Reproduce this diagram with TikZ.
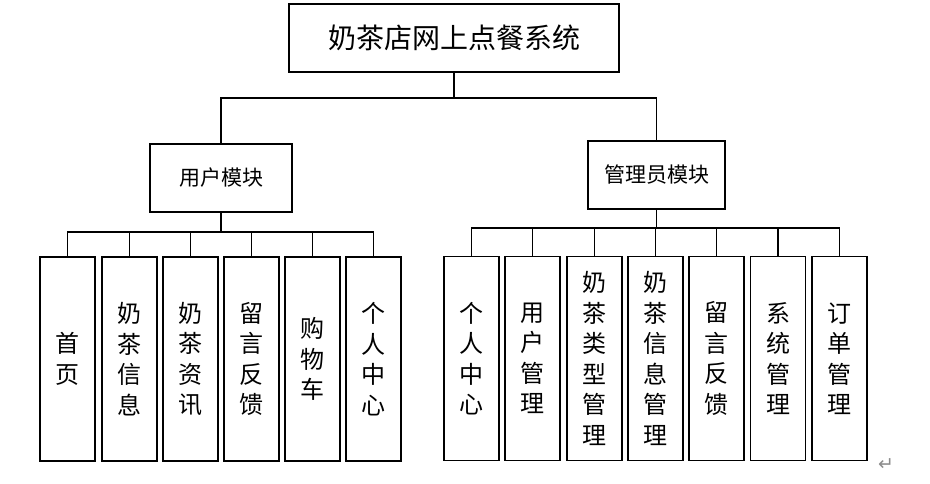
\documentclass[tikz,border=0pt]{standalone}
\usepackage{fontspec}
\newfontfamily\cjk{Noto Sans CJK SC}
\newfontfamily\symfont{DejaVu Sans}
\begin{document}
\begin{tikzpicture}[x=1pt,y=-1pt,
  box/.style={draw=black, line width=1.7pt, fill=white, inner sep=0pt, align=center, text=black},
  leaf/.style={box, minimum width=55pt, minimum height=204pt, font=\cjk\fontsize{24}{30.5}\selectfont},
  modbox/.style={box, font=\cjk\fontsize{21}{24}\selectfont},
  conn/.style={line width=1.7pt, draw=black}]
\useasboundingbox (0,0) rectangle (930,483);
% root
\node[box, minimum width=330pt, minimum height=68pt, font=\cjk\fontsize{28}{30}\selectfont] (root) at (454,38) {奶茶店网上点餐系统};
% modules
\node[modbox, minimum width=142pt, minimum height=68pt] (user) at (221,178) {用户模块};
\node[modbox, minimum width=137pt, minimum height=68pt] (admin) at (656.5,175) {管理员模块};
% junctions
\coordinate (j0) at (454,98);
\coordinate (ju) at (221,232);
\coordinate (ja) at (656.5,228);
% user leaves
\node[leaf] (u1) at (67.5,359) {首\\页};
\node[leaf] (u2) at (129.5,359) {奶\\茶\\信\\息};
\node[leaf] (u3) at (190.5,359) {奶\\茶\\资\\讯};
\node[leaf] (u4) at (251.5,359) {留\\言\\反\\馈};
\node[leaf] (u5) at (312.5,359) {购\\物\\车};
\node[leaf] (u6) at (373.5,359) {个\\人\\中\\心};
% admin leaves
\node[leaf] (a1) at (471.5,358.5) {个\\人\\中\\心};
\node[leaf] (a2) at (532.5,358.5) {用\\户\\管\\理};
\node[leaf] (a3) at (594.5,358.5) {奶\\茶\\类\\型\\管\\理};
\node[leaf] (a4) at (655.5,358.5) {奶\\茶\\信\\息\\管\\理};
\node[leaf] (a5) at (716.5,358.5) {留\\言\\反\\馈};
\node[leaf] (a6) at (778,358.5) {系\\统\\管\\理};
\node[leaf] (a7) at (839.5,358.5) {订\\单\\管\\理};
% connectors
\draw[conn] (root.south) -- (j0);
\draw[conn] (user.north) |- (j0);
\draw[conn] (admin.north) |- (j0);
\draw[conn] (user.south) -- (ju);
\foreach \n in {u1,u2,u3,u4,u5,u6} \draw[conn] (\n.north) |- (ju);
\draw[conn] (admin.south) -- (ja);
\foreach \n in {a1,a2,a3,a4,a5,a6,a7} \draw[conn] (\n.north) |- (ja);
% paragraph mark
\node[text=black!45, font=\symfont\fontsize{19}{19}\selectfont, inner sep=0pt] (pm) at (886,465) {↵};
\end{tikzpicture}
\end{document}
